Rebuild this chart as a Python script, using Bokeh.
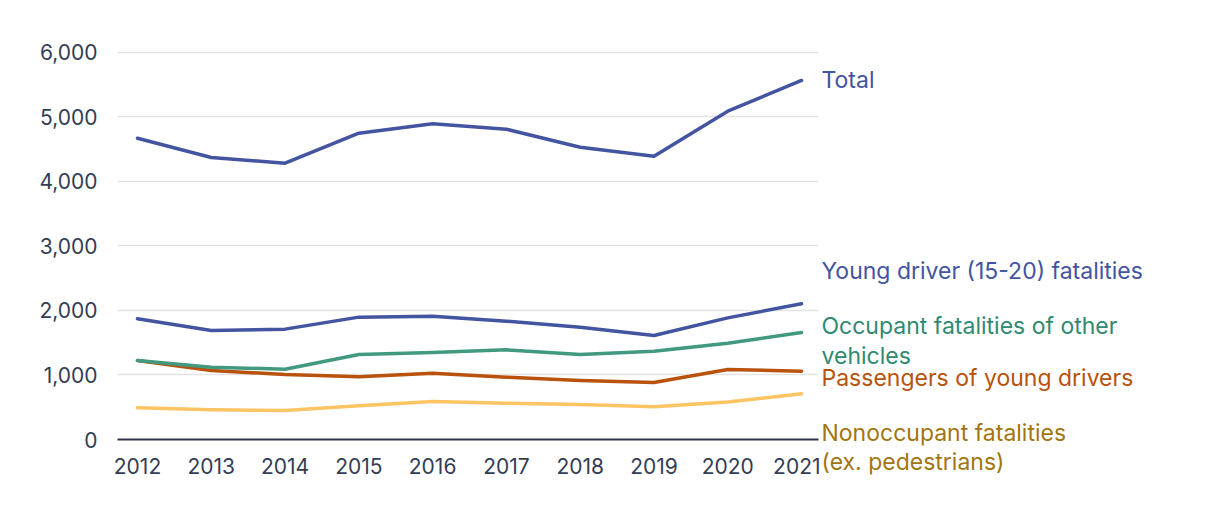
from bokeh.plotting import figure
from bokeh.layouts import row
from bokeh.models import Label, NumeralTickFormatter, FixedTicker, Range1d
from bokeh.embed import file_html
from bokeh.resources import INLINE

years = [2012, 2013, 2014, 2015, 2016, 2017, 2018, 2019, 2020, 2021]
total = [4671, 4372, 4284, 4749, 4894, 4811, 4532, 4392, 5090, 5566]
young_driver = [1871, 1690, 1711, 1897, 1912, 1835, 1741, 1612, 1886, 2104]
other_vehicle_occupants = [1225, 1121, 1090, 1318, 1349, 1390, 1318, 1369, 1493, 1659]
passengers = [1225, 1070, 1008, 972, 1028, 966, 915, 884, 1085, 1059]
nonoccupants = [491, 460, 450, 522, 589, 563, 543, 507, 581, 708]

series_names = ["Total", "Young driver (15-20) fatalities", "Occupant fatalities of other\nvehicles",
                "Passengers of young drivers", "Nonoccupant fatalities\n(ex. pedestrians)"]
y_ticks = [0, 1000, 2000, 3000, 4000, 5000, 6000]

FONT = "Inter"
line_colors = ["#4354a1", "#4354a1", "#41997f", "#b8520d", "#fcc463"]
label_colors = ["#4354a1", "#4354a1", "#2f8a70", "#b8520d", "#a37510"]
label_y = [5566, 2605, 1527, 946, -124]

Y_MAX = 6186
yr = Range1d(0, Y_MAX)
p = figure(width=820, height=498, output_backend="svg", toolbar_location=None,
           x_range=Range1d(2011.729, 2021.23), y_range=yr,
           min_border_left=117, min_border_right=2, min_border_top=40, min_border_bottom=59)
p.outline_line_color = None

series = [total, young_driver, other_vehicle_occupants, passengers, nonoccupants]
for vals, c in zip(series[::-1], line_colors[::-1]):
    p.line(years, vals, line_color=c, line_width=3.5, line_join="round", line_cap="round")

p.xgrid.grid_line_color = None
p.ygrid.grid_line_color = "#e3e3e3"
p.ygrid.grid_line_width = 1.5
p.yaxis.ticker = FixedTicker(ticks=y_ticks)
p.xaxis.ticker = FixedTicker(ticks=years)
p.yaxis.formatter = NumeralTickFormatter(format="0,0")
p.yaxis.axis_line_color = None
p.yaxis.major_tick_line_color = None
p.yaxis.minor_tick_line_color = None
p.yaxis.major_label_standoff = 14
p.xaxis.axis_line_color = "#2c3548"
p.xaxis.axis_line_width = 2
p.xaxis.major_tick_line_color = None
p.xaxis.minor_tick_line_color = None
p.xaxis.major_label_standoff = 12
for ax in (p.xaxis, p.yaxis):
    ax.major_label_text_font = FONT
    ax.major_label_text_font_size = "21px"
    ax.major_label_text_color = "#333d55"

# label panel: same vertical scale as the chart, frame extended to full height
px_per_unit = (498 - 40 - 59) / Y_MAX
q = figure(width=400, height=498, output_backend="svg", toolbar_location=None,
           x_range=Range1d(0, 1),
           y_range=Range1d(-59 / px_per_unit, Y_MAX + 40 / px_per_unit),
           min_border_left=0, min_border_right=0, min_border_top=0, min_border_bottom=0)
q.frame_align = False
q.outline_line_color = None
q.axis.visible = False
q.grid.grid_line_color = None

for name, ly, c in zip(series_names, label_y, label_colors):
    q.add_layout(Label(x=1, y=ly, x_units="screen", text=name, text_font=FONT,
                       text_font_size="23px", text_color=c, text_baseline="middle",
                       text_line_height=1.07))

layout = row(p, q, spacing=0)
open("out.html", "w").write(file_html(layout, INLINE))
